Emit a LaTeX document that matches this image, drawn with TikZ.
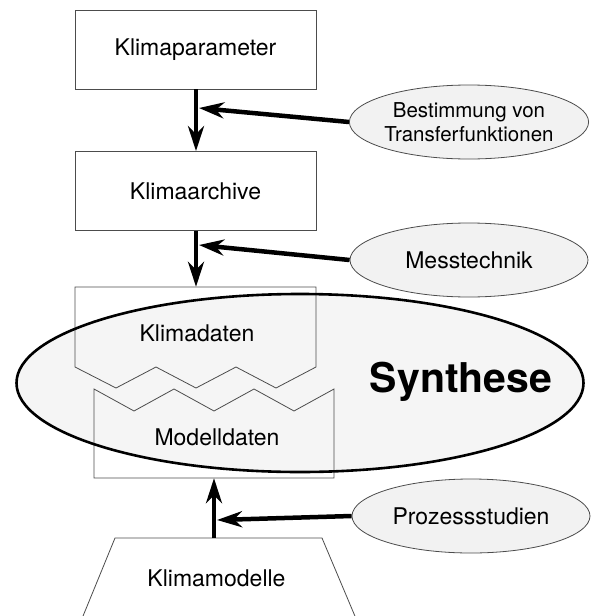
\documentclass[tikz,border=0pt]{standalone}
\usepackage{fontspec}
\setmainfont{TeX Gyre Heros}
\usetikzlibrary{arrows.meta,shapes.geometric}
\begin{document}
\begin{tikzpicture}[x=1pt,y=-1pt,
  thin line/.style={draw=black!70, line width=0.8pt},
  box/.style={thin line, minimum width=241pt, minimum height=79pt, inner sep=0pt, font=\fontsize{23}{27}\selectfont},
  lbl/.style={font=\fontsize{23}{27}\selectfont, inner sep=0pt},
  oval/.style={ellipse, thin line, fill=black!5, minimum width=238pt, minimum height=74pt, inner sep=0pt, align=center, font=\fontsize{23}{27}\selectfont},
  arr/.style={line width=4.5pt, -{Stealth[length=25pt, width=16pt, inset=8pt]}},
]
\useasboundingbox (0,0) rectangle (597,616);
\clip (0,0) rectangle (597,616);

% big ellipse fill
\node[ellipse, fill=black!4, minimum width=567pt, minimum height=178pt, inner sep=0pt] (syn) at (300,383) {};

% top boxes
\node[box] (kp) at (195.5,49.5) {Klimaparameter};
\node[box] (ka) at (195.5,191) {Klimaarchive};

% Klimadaten box
\draw[thin line] (75,367) -- (75,287) -- (316,287) -- (316,367)
  -- (276,388) -- (236,367) -- (196,388) -- (156,367) -- (116,388) -- cycle;
\node[minimum width=241pt, minimum height=80pt, inner sep=0pt] (kd) at (195.5,327) {};
\node[lbl] (kdl) at (197,333) {Klimadaten};

% Modelldaten box
\draw[thin line] (94,389) -- (134,411) -- (174,389) -- (214,411) -- (254,389) -- (294,411) -- (334,389)
  -- (334,478) -- (94,478) -- cycle;
\node[minimum width=240pt, minimum height=89pt, inner sep=0pt] (md) at (214,433.5) {};
\node[lbl] (mdl) at (217,437) {Modelldaten};

% big ellipse border and label
\node[ellipse, draw=black, line width=2.6pt, minimum width=567pt, minimum height=178pt, inner sep=0pt] (synb) at (300,383) {};
\node[font=\bfseries\fontsize{41}{48}\selectfont, inner sep=0pt] (synl) at (461,382) {Synthese};

% Klimamodelle trapezoid
\draw[thin line] (81.4,620) -- (115,538) -- (322,538) -- (356.6,620);
\coordinate (kmtop) at (214,538);
\node[lbl] (kml) at (216.5,578) {Klimamodelle};

% ovals
\node[oval, font=\fontsize{20.5}{23.5}\selectfont] (e1) at (469,122) {Bestimmung von\\Transferfunktionen};
\node[oval] (e2) at (469,260) {Messtechnik};
\node[oval] (e3) at (471,516) {Prozessstudien};

% target points on vertical arrows
\coordinate (t1) at (199,108);
\coordinate (t2) at (199,245);
\coordinate (t3) at (217,520);

% arrows
\draw[arr] (kp.south -| 196,0) -- (ka.north -| 196,0);
\draw[arr] (ka.south -| 196,0) -- (kd.north -| 196,0);
\draw[arr] (kmtop) -- (md.south);
\draw[arr] (e1.west) -- (t1);
\draw[arr] (e2.west) -- (t2);
\draw[arr] (e3.west) -- (t3);
\end{tikzpicture}
\end{document}
